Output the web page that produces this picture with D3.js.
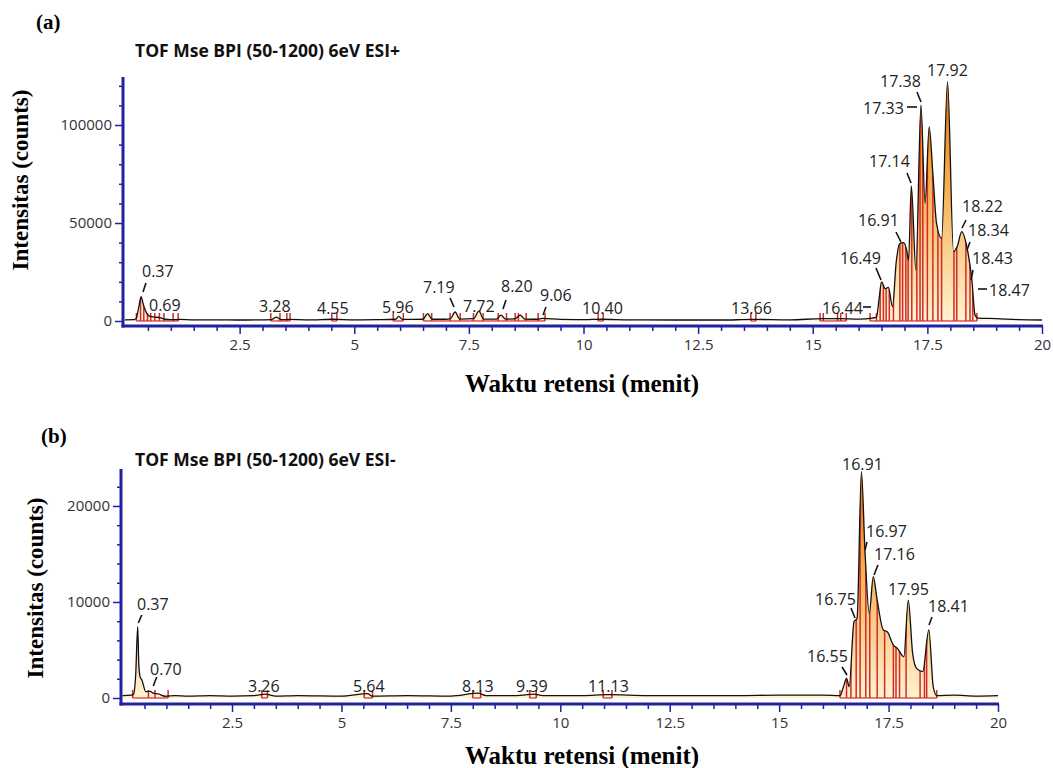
<!DOCTYPE html>
<html>
<head>
<meta charset="utf-8">
<script src="https://cdn.jsdelivr.net/npm/d3@7"></script>
<style>
  body { margin: 0; background: #fff; }
  text { font-family: "Open Sans", sans-serif; }
  .serif { font-family: "Liberation Serif", "Times New Roman", serif; font-weight: bold; }
</style>
</head>
<body>
<script>
// ---- data ----
// panel (a) ESI+ trace : retention time (min), intensity (counts)
const timeA = [0.00,0.20,0.24,0.30,0.35,0.40,0.44,0.55,0.65,0.76,0.87,1.00,1.20,1.50,2.00,2.50,3.00,3.20,3.30,3.40,3.60,4.00,4.55,5.00,5.50,5.90,5.97,6.05,6.50,6.60,6.70,7.00,7.10,7.20,7.30,7.60,7.72,7.82,8.10,8.20,8.30,8.50,8.62,8.72,9.00,9.10,9.50,10.00,10.40,11.00,12.00,13.00,13.70,14.50,15.20,15.60,16.00,16.30,16.39,16.45,16.50,16.58,16.65,16.74,16.82,16.90,16.98,17.05,17.09,17.15,17.25,17.36,17.45,17.54,17.62,17.70,17.81,17.94,18.07,18.15,18.25,18.36,18.47,18.54,18.60,19.00,19.50,20.00];
const intA  = [600,700,1200,7000,12400,8500,5600,2300,2000,1700,900,700,800,600,600,500,600,700,2000,700,800,600,900,600,700,900,2400,800,900,3800,900,900,1200,4600,1000,1200,5000,1000,1000,3000,1000,1100,3000,1000,900,1300,800,700,900,600,500,500,800,600,1200,1200,1000,1500,2000,12000,20000,16500,17200,7300,30000,39600,40000,36000,31000,68900,26000,110200,60000,99100,75000,49800,42200,122100,35400,38000,45600,37900,20900,3000,1500,1200,700,500];
// integration markers (red) for panel (a)
const markA = [0.25,0.34,0.41,0.49,0.56,0.65,0.75,0.85,1.05,1.16,3.18,3.38,3.53,3.60,4.51,4.62,5.85,6.07,6.51,6.69,7.09,7.31,7.60,7.81,8.14,8.32,8.51,8.58,8.75,9.01,9.16,10.32,10.43,13.65,13.76,15.16,15.23,15.54,15.61,15.73,16.25,16.39,16.47,16.54,16.60,16.67,16.76,16.90,16.96,17.03,17.08,17.16,17.27,17.34,17.40,17.50,17.62,17.73,17.81,18.08,18.14,18.34,18.43,18.49,18.58];
const peakLabelsA = ["0.37","0.69","3.28","4.55","5.96","7.19","7.72","8.20","9.06","10.40","13.66","16.44","16.49","16.91","17.14","17.33","17.38","17.92","18.22","18.34","18.43","18.47"];

// panel (b) ESI- trace
const timeB = [0.00,0.20,0.25,0.30,0.345,0.37,0.40,0.44,0.53,0.63,0.70,0.82,0.97,1.20,1.50,2.00,2.50,3.00,3.26,3.50,4.00,5.00,5.60,5.70,6.50,7.50,8.13,8.30,9.00,9.40,9.60,10.50,11.10,12.00,13.00,14.00,15.00,16.00,16.39,16.47,16.54,16.60,16.71,16.78,16.88,16.96,17.06,17.15,17.24,17.38,17.47,17.61,17.70,17.85,17.95,18.05,18.14,18.28,18.42,18.52,18.60,19.00,19.50,20.00];
const intB  = [250,300,400,2500,7430,3500,2200,1880,660,700,500,420,180,250,200,250,200,250,400,200,250,200,450,200,250,200,500,250,250,400,250,250,350,250,250,250,300,300,250,1180,2050,1180,7950,8300,23570,15400,8800,12640,10200,7080,6900,5500,5170,4300,10200,4650,3090,2740,7080,1180,250,300,200,250];
const markB = [0.23,0.59,0.74,1.04,3.18,3.31,5.52,5.71,8.00,8.18,9.30,9.45,10.98,11.18,16.39,16.54,16.64,16.76,16.85,16.98,17.07,17.24,17.41,17.61,17.67,17.75,17.90,18.22,18.32,18.37,18.60];
const peakLabelsB = ["0.37","0.70","3.26","5.64","8.13","9.39","11.13","16.55","16.75","16.91","16.97","17.16","17.95","18.41"];

// axis ticks
const xMajor = [2.5,5,7.5,10,12.5,15,17.5,20];
const yTicksA = [0,50000,100000];
const yTicksB = [0,10000,20000];

// ---- annotation layout (pixels): text x, baseline y, optional leader [x1,y1,x2,y2] ----
const labelPosA = [
  [142,277,[146,283,143,292]],[149,311],[259,312],[317,314],[382,313],
  [423,293,[450,298,454,307]],[463,312],[501,292,[506,300,503,309]],[540,301,[546,307,543,315]],
  [582,314],[731,314],[822,314,[863,307,871,307]],[840,264,[876,268,881,280]],
  [858,226,[896,232,901,242]],[869,167,[907,173,911,183]],[863,114,[907,107,917,107]],
  [880,87,[917,92,921,102]],[927,76],[962,212,[966,220,962,228]],[968,236,[970,242,967,250]],
  [972,264,[973,270,971,280]],[989,296,[978,289,987,289]]
];
const labelPosB = [
  [137,610,[141.7,615,138.3,623]],[150,675,[156.7,677,153.3,686]],[248,692],[353,692],[462,692],
  [516,692],[588,692],[807,662,[842,667,847,675]],[815,605,[851,608,855,618]],[842,470],
  [866,537,[867,542,865,550]],[874,560,[878,565,874,575]],[888,595],[928,612,[932,617,929,625]]
];

const axisColor = "#22229e";
const markColor = "#d22a2a";

const svg = d3.select("body").append("svg").attr("width", 1053).attr("height", 768);

const defs = svg.append("defs");

const panels = [
  {id:"a", tag:"(a)", tagX:36, tagY:29, title:"TOF Mse BPI (50-1200) 6eV ESI+", titleY:57,
   t:timeA, v:intA, marks:markA, labels:peakLabelsA, pos:labelPosA,
   yMax:124500, yTicks:yTicksA, yMinor:10000,
   x0:125, x1:1042, y0:321, y1:77, axisX:123, axisY:326,
   ylabX:28, ylabY:180, xlabY:392},
  {id:"b", tag:"(b)", tagX:41, tagY:443, title:"TOF Mse BPI (50-1200) 6eV ESI-", titleY:466,
   t:timeB, v:intB, marks:markB, labels:peakLabelsB, pos:labelPosB,
   yMax:23850, yTicks:yTicksB, yMinor:2000,
   x0:122.6, x1:998, y0:698, y1:469, axisX:121, axisY:704,
   ylabX:43, ylabY:588, xlabY:764}
];

panels.forEach(p => {
  const x = d3.scaleLinear().domain([0, 20]).range([p.x0, p.x1]);
  const y = d3.scaleLinear().domain([0, p.yMax]).range([p.y0, p.y1]);
  const pts = p.t.map((d, i) => [d, p.v[i]]);
  const g = svg.append("g");

  // gradient fill (orange at top, pale yellow at base)
  const grad = defs.append("linearGradient").attr("id", "grad" + p.id)
    .attr("gradientUnits", "userSpaceOnUse")
    .attr("x1", 0).attr("x2", 0)
    .attr("y1", y(d3.max(p.v))).attr("y2", p.y0);
  grad.append("stop").attr("offset", 0).attr("stop-color", "#d8671c");
  grad.append("stop").attr("offset", 0.35).attr("stop-color", "#f4a63c");
  grad.append("stop").attr("offset", 1).attr("stop-color", "#fff3d2");

  const area = d3.area().x(d => x(d[0])).y0(p.y0).y1(d => y(d[1])).curve(d3.curveMonotoneX);
  const line = d3.line().x(d => x(d[0])).y(d => y(d[1])).curve(d3.curveMonotoneX);

  // clip for the red integration markers: under the trace, or a short bracket at the base
  const clip = defs.append("clipPath").attr("id", "clip" + p.id);
  clip.append("path").attr("d", area(pts));
  clip.append("rect").attr("x", p.x0).attr("y", p.y0 - 8).attr("width", p.x1 - p.x0).attr("height", 8);

  g.append("path").attr("d", area(pts)).attr("fill", "url(#grad" + p.id + ")");

  const mk = g.append("g").attr("clip-path", "url(#clip" + p.id + ")");
  mk.selectAll("line").data(p.marks).enter().append("line")
    .attr("x1", d => x(d)).attr("x2", d => x(d))
    .attr("y1", p.y0).attr("y2", p.y1)
    .attr("stroke", markColor).attr("stroke-width", 1.5);

  // red base segments between neighbouring markers
  const segs = d3.pairs(p.marks).filter(d => d[1] - d[0] < 0.4);
  g.selectAll(".seg").data(segs).enter().append("line")
    .attr("x1", d => x(d[0])).attr("x2", d => x(d[1]))
    .attr("y1", p.y0).attr("y2", p.y0)
    .attr("stroke", markColor).attr("stroke-width", 1.2);

  g.append("path").attr("d", line(pts)).attr("fill", "none")
    .attr("stroke", "#111").attr("stroke-width", 1.3);

  // peak labels and leaders
  p.labels.forEach((txt, i) => {
    const lp = p.pos[i];
    g.append("text").text(txt).attr("x", lp[0]).attr("y", lp[1])
      .attr("font-size", 16).attr("fill", "#222");
    if (lp[2]) {
      g.append("line").attr("x1", lp[2][0]).attr("y1", lp[2][1])
        .attr("x2", lp[2][2]).attr("y2", lp[2][3])
        .attr("stroke", "#111").attr("stroke-width", 1.6);
    }
  });

  // axes
  const xMinor = d3.range(0.5, 20, 0.5).filter(d => d % 2.5 !== 0);
  const xa = g.append("g").attr("transform", `translate(0,${p.axisY})`)
    .call(d3.axisBottom(x).tickValues(xMajor).tickSize(8).tickSizeOuter(0).tickPadding(5).tickFormat(d3.format("")));
  const xm = g.append("g").attr("transform", `translate(0,${p.axisY})`)
    .call(d3.axisBottom(x).tickValues(xMinor).tickSize(5).tickSizeOuter(0).tickFormat(""));
  const yMinor = d3.range(p.yMinor, p.yMax, p.yMinor).filter(d => !p.yTicks.includes(d));
  const ya = g.append("g").attr("transform", `translate(${p.axisX},0)`)
    .call(d3.axisLeft(y).tickValues(p.yTicks).tickSize(8).tickSizeOuter(0).tickPadding(3).tickFormat(d3.format("")));
  const ym = g.append("g").attr("transform", `translate(${p.axisX},0)`)
    .call(d3.axisLeft(y).tickValues(yMinor).tickSize(4).tickSizeOuter(0).tickFormat(""));
  [xa, xm, ya, ym].forEach(a => {
    a.select(".domain").remove();
    a.selectAll(".tick line").attr("stroke", axisColor).attr("stroke-width", 1.5);
    a.selectAll(".tick text").attr("font-size", 15).attr("fill", "#333")
      .attr("font-family", "'Open Sans', sans-serif");
  });

  g.append("line").attr("x1", p.axisX).attr("x2", p.axisX).attr("y1", p.y1).attr("y2", p.axisY + 1.5)
    .attr("stroke", axisColor).attr("stroke-width", 3);
  g.append("line").attr("x1", p.axisX - 1.5).attr("x2", p.x1 + 1).attr("y1", p.axisY).attr("y2", p.axisY)
    .attr("stroke", axisColor).attr("stroke-width", 3);

  // titles
  svg.append("text").attr("class", "serif").text(p.tag).attr("x", p.tagX).attr("y", p.tagY)
    .attr("font-size", 21);
  svg.append("text").text(p.title).attr("x", 135).attr("y", p.titleY)
    .attr("font-size", 17.5).attr("font-weight", "bold").attr("fill", "#111");
  svg.append("text").attr("class", "serif").text("Intensitas (counts)")
    .attr("transform", `translate(${p.ylabX},${p.ylabY}) rotate(-90)`)
    .attr("text-anchor", "middle").attr("font-size", 23);
  svg.append("text").attr("class", "serif").text("Waktu retensi (menit)")
    .attr("x", 582).attr("y", p.xlabY)
    .attr("text-anchor", "middle").attr("font-size", 25);
});
</script>
</body>
</html>
